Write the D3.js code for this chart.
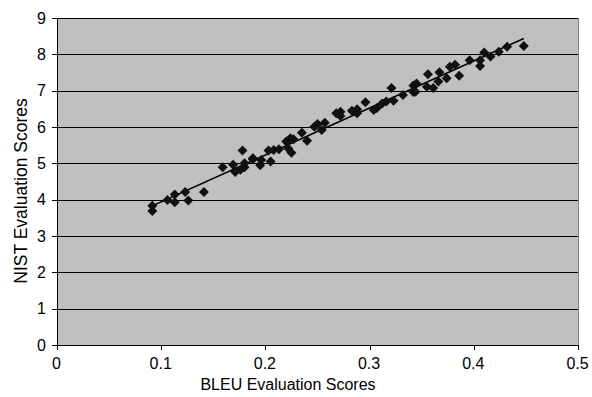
<!DOCTYPE html>
<html>
<head>
<meta charset="utf-8">
<script src="https://cdn.jsdelivr.net/npm/d3@7"></script>
<style>
  body { margin: 0; background: #fff; }
  text { font-family: "Liberation Sans", Arial, sans-serif; fill: #000; }
</style>
</head>
<body>
<div id="chart"></div>
<script>
// BLEU vs NIST scores
const bleu = [0.0915, 0.0915, 0.106, 0.113, 0.113, 0.123, 0.126, 0.141, 0.159, 0.169,
  0.171, 0.176, 0.178, 0.18, 0.18, 0.188, 0.188, 0.195, 0.196, 0.203,
  0.205, 0.208, 0.213, 0.220, 0.222, 0.224, 0.225, 0.227, 0.235, 0.240,
  0.247, 0.250, 0.254, 0.257, 0.268, 0.272, 0.272, 0.283, 0.288, 0.288,
  0.296, 0.304, 0.307, 0.312, 0.316, 0.321, 0.323, 0.332, 0.342, 0.342,
  0.345, 0.344, 0.355, 0.356, 0.361, 0.366, 0.367, 0.374, 0.377, 0.382,
  0.386, 0.396, 0.406, 0.406, 0.410, 0.416, 0.424, 0.432, 0.448];
const nist = [3.83, 3.69, 3.99, 4.14, 3.93, 4.21, 3.98, 4.21, 4.89, 4.96,
  4.76, 4.82, 5.35, 5.0, 4.89, 5.14, 5.11, 4.95, 5.09, 5.35,
  5.05, 5.37, 5.39, 5.60, 5.41, 5.69, 5.29, 5.66, 5.84, 5.62,
  6.01, 6.08, 5.92, 6.12, 6.38, 6.42, 6.30, 6.45, 6.49, 6.38,
  6.68, 6.47, 6.52, 6.65, 6.70, 7.07, 6.72, 6.88, 7.14, 6.96,
  7.20, 6.97, 7.11, 7.45, 7.07, 7.25, 7.51, 7.34, 7.66, 7.71,
  7.41, 7.84, 7.68, 7.84, 8.05, 7.94, 8.07, 8.21, 8.23];
const xTicks = [0, 0.1, 0.2, 0.3, 0.4, 0.5];
const yTicks = [0, 1, 2, 3, 4, 5, 6, 7, 8, 9];

const width = 592, height = 397;
const margin = {top: 18, right: 14, bottom: 52, left: 57};
const plotW = width - margin.left - margin.right;
const plotH = height - margin.top - margin.bottom;

const svg = d3.select('#chart').append('svg')
  .attr('width', width)
  .attr('height', height);

const xScale = d3.scaleLinear().domain([0, 0.5]).range([0, plotW]);
const yScale = d3.scaleLinear().domain([0, 9]).range([plotH, 0]);

const g = svg.append('g')
  .attr('transform', 'translate(' + margin.left + ',' + margin.top + ')');

// plot area
g.append('rect')
  .attr('width', plotW)
  .attr('height', plotH)
  .style('fill', '#c0c0c0')
  .style('stroke', '#808080')
  .style('shape-rendering', 'crispEdges');

// horizontal gridlines
g.selectAll('.grid')
  .data(yTicks.slice(1))
  .enter().append('line')
  .attr('class', 'grid')
  .attr('x1', 0).attr('x2', plotW)
  .attr('y1', (d) => Math.round(yScale(d)) + 0.5)
  .attr('y2', (d) => Math.round(yScale(d)) + 0.5)
  .style('stroke', '#000')
  .style('stroke-width', 1);

// axes
const xAxis = g.append('g')
  .attr('transform', 'translate(0,' + plotH + ')')
  .call(d3.axisBottom(xScale).tickValues(xTicks).tickFormat(d3.format('')).tickSizeInner(5).tickSizeOuter(0).tickPadding(8));
const yAxis = g.append('g')
  .call(d3.axisLeft(yScale).tickValues(yTicks).tickFormat(d3.format('')).tickSizeInner(5).tickSizeOuter(0).tickPadding(6));
[xAxis, yAxis].forEach((a) => {
  a.selectAll('path, line').style('stroke', '#000').style('shape-rendering', 'crispEdges');
  a.selectAll('text').style('font-size', '16px').style('font-family', '"Liberation Sans", Arial, sans-serif');
});
xAxis.selectAll('text').attr('dx', -1);

// linear trend line from least squares fit
const mx = d3.mean(bleu), my = d3.mean(nist);
let sxy = 0, sxx = 0;
bleu.forEach((x, i) => { sxy += (x - mx) * (nist[i] - my); sxx += (x - mx) * (x - mx); });
const slope = sxy / sxx;
const intercept = my - slope * mx;
const xExtent = d3.extent(bleu);
const line = d3.line()
  .x((d) => xScale(d))
  .y((d) => yScale(intercept + slope * d));
g.append('path')
  .datum(xExtent)
  .attr('d', line)
  .style('stroke', '#000')
  .style('stroke-width', 1.6)
  .style('fill', 'none');

// diamond markers
const points = bleu.map((x, i) => ({x: x, y: nist[i]}));
const diamond = 'M0,-5L5,0L0,5L-5,0Z';
g.selectAll('.pt')
  .data(points)
  .enter().append('path')
  .attr('class', 'pt')
  .attr('d', diamond)
  .attr('transform', (d) => 'translate(' + xScale(d.x) + ',' + yScale(d.y) + ')')
  .style('fill', '#111');

// axis titles
svg.append('text')
  .attr('x', 288)
  .attr('y', 390)
  .attr('text-anchor', 'middle')
  .style('font-size', '16px')
  .text('BLEU Evaluation Scores');
svg.append('text')
  .attr('transform', 'translate(27,191) rotate(-90)')
  .attr('text-anchor', 'middle')
  .style('font-size', '17.5px')
  .text('NIST Evaluation Scores');
</script>
</body>
</html>
